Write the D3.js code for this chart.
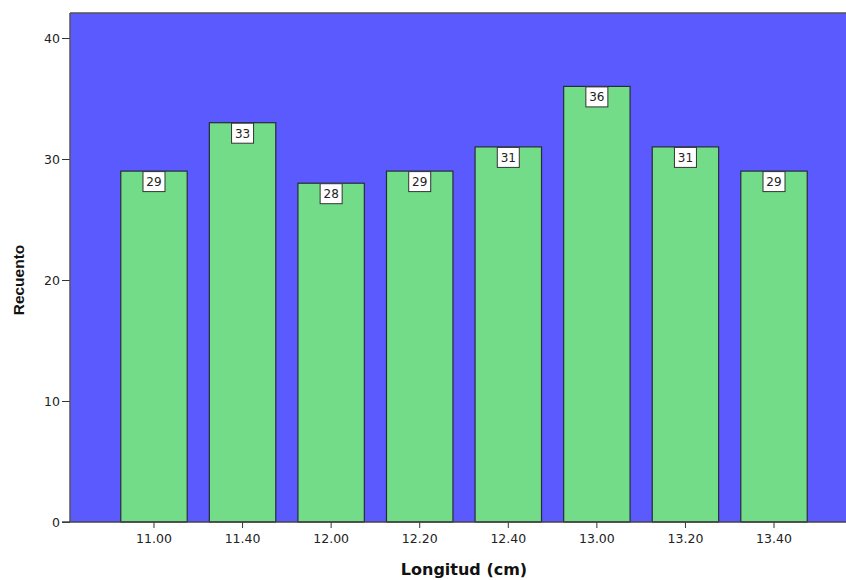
<!DOCTYPE html>
<html><head><meta charset="utf-8">
<script src="https://cdn.jsdelivr.net/npm/d3@7"></script>
<style>body{margin:0;background:#fff}svg{display:block}</style>
</head><body>
<svg id="chart" width="846" height="580"></svg>
<script>
const categories = ["11.00","11.40","12.00","12.20","12.40","13.00","13.20","13.40"];
const counts = [29,33,28,29,31,36,31,29];
const yTicks = [0,10,20,30,40];
const xTitle = "Longitud (cm)";
const yTitle = "Recuento";

const svg = d3.select("#chart");
const plot = {left:70, right:846, top:13, bottom:522};
const wideFont = "'DejaVu Sans', Verdana, sans-serif";
const narrowFont = "Arial, 'Liberation Sans', sans-serif";

const y = d3.scaleLinear().domain([0,40]).range([522,38]);
const x = d3.scaleBand().domain(categories).range([109.7,818.3]).paddingInner(0.25).paddingOuter(0.125);

svg.append("rect").attr("x",plot.left).attr("y",plot.top)
  .attr("width",plot.right-plot.left).attr("height",plot.bottom-plot.top)
  .attr("fill","#5a5aff");
svg.append("line").attr("x1",plot.left).attr("x2",plot.right).attr("y1",plot.top).attr("y2",plot.top)
  .attr("stroke","#555").attr("stroke-width",1.5);

const data = categories.map((c,i)=>({c, v:counts[i]}));
svg.selectAll("rect.bar").data(data).join("rect").attr("class","bar")
  .attr("x",d=>x(d.c)).attr("width",x.bandwidth())
  .attr("y",d=>y(d.v)).attr("height",d=>y(0)-y(d.v))
  .attr("fill","#72dc88").attr("stroke","#2a2a3a").attr("stroke-width",1.2);

const lab = svg.selectAll("g.lab").data(data).join("g").attr("class","lab")
  .attr("transform",d=>`translate(${x(d.c)+x.bandwidth()/2},${y(d.v)})`);
lab.append("rect").attr("x",-11).attr("y",0.5).attr("width",22).attr("height",20)
  .attr("fill","#fff").attr("stroke","#333").attr("stroke-width",1);
lab.append("text").attr("x",0).attr("y",15).attr("text-anchor","middle")
  .attr("font-family",wideFont).attr("font-size",12).attr("fill","#222")
  .text(d=>d.v);

// axes
const xAxis = d3.axisBottom(x).tickSize(6).tickSizeOuter(0);
const gx = svg.append("g").attr("transform",`translate(0,${plot.bottom})`).call(xAxis);
gx.select(".domain").remove();
gx.selectAll(".tick line").attr("stroke","#333");
gx.selectAll(".tick text").attr("font-family",wideFont).attr("font-size",12.5).attr("fill","#222").attr("y",11).attr("dy","0.8em");

const yAxis = d3.axisLeft(y).tickValues(yTicks).tickSize(8).tickSizeOuter(0).tickFormat(d3.format("d"));
const gy = svg.append("g").attr("transform",`translate(${plot.left},0)`).call(yAxis);
gy.select(".domain").remove();
gy.selectAll(".tick line").attr("stroke","#333");
gy.selectAll(".tick text").attr("font-family",wideFont).attr("font-size",12.5).attr("fill","#222").attr("x",-10);

svg.append("line").attr("x1",plot.left).attr("x2",plot.left).attr("y1",plot.top).attr("y2",plot.bottom).attr("stroke","#555").attr("stroke-width",1.5);
svg.append("line").attr("x1",plot.left-8).attr("x2",plot.right).attr("y1",plot.bottom).attr("y2",plot.bottom).attr("stroke","#444").attr("stroke-width",1.5);

svg.append("text").attr("x",464).attr("y",575).attr("text-anchor","middle")
  .attr("font-family",wideFont).attr("font-weight","bold").attr("font-size",16).attr("fill","#111")
  .text(xTitle);
svg.append("text").attr("transform","translate(24,280) rotate(-90)").attr("text-anchor","middle")
  .attr("font-family",narrowFont).attr("font-weight","bold").attr("font-size",15.5).attr("fill","#111")
  .text(yTitle);
</script>
</body></html>
